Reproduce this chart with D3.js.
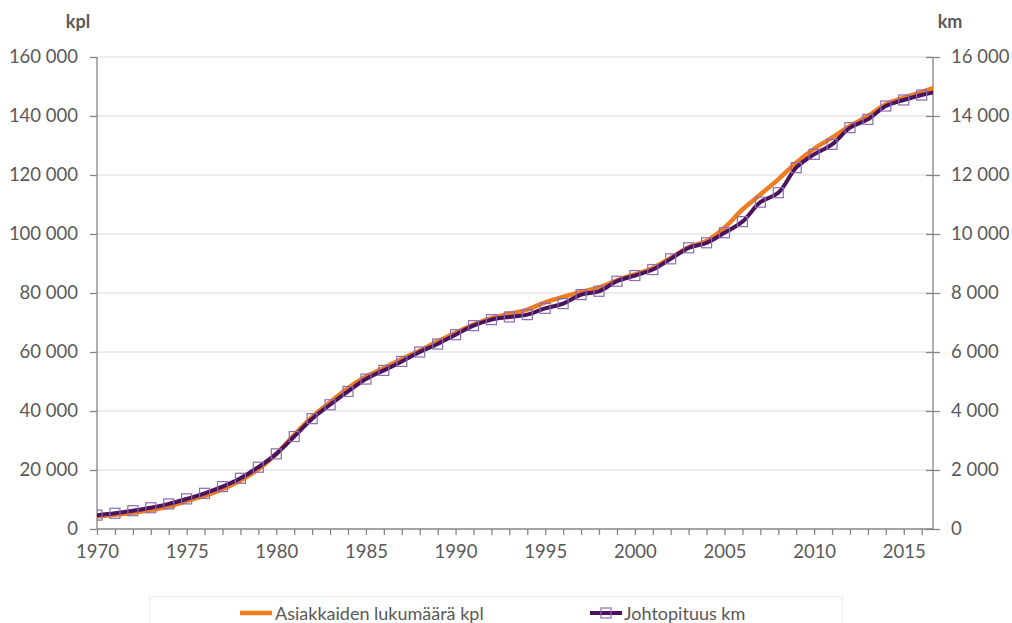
<!DOCTYPE html>
<html>
<head>
<meta charset="utf-8">
<script src="https://d3js.org/d3.v7.min.js"></script>
<style>
  body { margin: 0; background: #fff; font-family: Lato, "Open Sans", sans-serif; }
  svg text { fill: #595959; }
</style>
</head>
<body>
<div id="chart"></div>
<script>
// values
const years = d3.range(1970, 2018);
const customers = [4200, 4800, 5500, 6400, 7600, 9500, 11200, 13500, 16400, 20300,
  25500, 31900, 38000, 43000, 47800, 51700, 54600, 57600, 60500, 63600,
  66500, 69300, 71500, 72900, 74400, 76800, 78700, 80400, 81900, 84300,
  86300, 88500, 91900, 95500, 97600, 102100, 108300, 113400, 118500, 124200,
  128900, 132700, 136600, 140000, 144000, 146200, 148100, 150200];
const lineKm = [470, 533, 620, 720, 850, 1020, 1210, 1437, 1720, 2095,
  2547, 3134, 3740, 4211, 4662, 5083, 5376, 5681, 6000, 6272,
  6587, 6893, 7097, 7189, 7267, 7480, 7640, 7946, 8059, 8399,
  8591, 8795, 9158, 9532, 9702, 10042, 10420, 11080, 11399, 12248,
  12700, 13039, 13606, 13888, 14339, 14543, 14710, 14840];
const leftTicks = [0, 20000, 40000, 60000, 80000, 100000, 120000, 140000, 160000];
const rightTicks = [0, 2000, 4000, 6000, 8000, 10000, 12000, 14000, 16000];
const yearLabels = [1970, 1975, 1980, 1985, 1990, 1995, 2000, 2005, 2010, 2015];
const seriesNames = ["Asiakkaiden lukumäärä kpl", "Johtopituus km"];

const width = 1012, height = 623;
const m = { left: 97, right: 933, top: 57, bottom: 529 };

const x = d3.scaleLinear().domain([1970, 2016.63]).range([m.left, m.right]);
const yL = d3.scaleLinear().domain([0, 160000]).range([m.bottom, m.top]);
const yR = d3.scaleLinear().domain([0, 16000]).range([m.bottom, m.top]);

const fmt = v => d3.format(",")(v).replace(/,/g, " ");

const svg = d3.select("#chart").append("svg")
  .attr("width", width).attr("height", height);

svg.append("defs").append("clipPath").attr("id", "plot")
  .append("rect").attr("x", m.left).attr("y", 0)
  .attr("width", m.right - m.left).attr("height", m.bottom);

// gridlines
svg.append("g").selectAll("line").data(leftTicks.slice(1)).join("line")
  .attr("x1", m.left).attr("x2", m.right)
  .attr("y1", d => yL(d)).attr("y2", d => yL(d))
  .attr("stroke", "#d9d9d9").attr("stroke-width", 1);

// left axis
const gL = svg.append("g").attr("transform", `translate(${m.left},0)`)
  .call(d3.axisLeft(yL).tickValues(leftTicks).tickFormat(fmt).tickSize(7).tickPadding(12));
// right axis
const gR = svg.append("g").attr("transform", `translate(${m.right},0)`)
  .call(d3.axisRight(yR).tickValues(rightTicks).tickFormat(fmt).tickSize(7).tickPadding(11));
gR.selectAll(".tick line").attr("x1", -7);
// bottom axis
const gB = svg.append("g").attr("transform", `translate(0,${m.bottom})`)
  .call(d3.axisBottom(x).tickValues(d3.range(1970, 2017)).tickSize(6).tickPadding(10)
    .tickFormat(d => yearLabels.includes(d) ? d : ""));

[gL, gR, gB].forEach(g => {
  g.select(".domain").attr("stroke", "#868686").attr("stroke-width", 1.3);
  g.selectAll(".tick line").attr("stroke", "#868686").attr("stroke-width", 1.3);
  g.selectAll("text").attr("font-family", "Lato, sans-serif").attr("font-size", 18.5).attr("fill", "#595959");
});
gL.select(".domain").attr("d", `M0,${m.bottom}V${m.top}`);
gR.select(".domain").attr("d", `M0,${m.bottom}V${m.top}`);
gB.select(".domain").attr("d", `M${m.left},0H${m.right}`);

// axis titles
svg.append("text").attr("x", 78).attr("y", 28).attr("text-anchor", "middle")
  .attr("font-size", 18).attr("font-weight", "bold").text("kpl");
svg.append("text").attr("x", 950).attr("y", 28).attr("text-anchor", "middle")
  .attr("font-size", 18).attr("font-weight", "bold").text("km");

const plot = svg.append("g").attr("clip-path", "url(#plot)");

const lineL = d3.line().curve(d3.curveCatmullRom)
  .x((d, i) => x(years[i])).y(d => yL(d));
const lineR = d3.line().curve(d3.curveCatmullRom)
  .x((d, i) => x(years[i])).y(d => yR(d));

plot.append("path").datum(customers).attr("d", lineL)
  .attr("fill", "none").attr("stroke", "#ee7d22").attr("stroke-width", 4.5)
  .attr("stroke-linejoin", "round");

plot.append("path").datum(lineKm).attr("d", lineR)
  .attr("fill", "none").attr("stroke", "#4a145c").attr("stroke-width", 4)
  .attr("stroke-linejoin", "round");

plot.append("g").selectAll("rect").data(lineKm).join("rect")
  .attr("x", (d, i) => x(years[i]) - 5).attr("y", d => yR(d) - 5)
  .attr("width", 10).attr("height", 10)
  .attr("fill", "none").attr("stroke", "#8c6bb1").attr("stroke-width", 1.2);

// legend
svg.append("rect").attr("x", 149.5).attr("y", 596.5).attr("width", 693).attr("height", 40)
  .attr("fill", "none").attr("stroke", "#eeeeee");
const legend = svg.append("g");
legend.append("line").attr("x1", 240).attr("x2", 272).attr("y1", 613).attr("y2", 613)
  .attr("stroke", "#ee7d22").attr("stroke-width", 4.5);
legend.append("text").attr("x", 275).attr("y", 620).attr("font-size", 18).text(seriesNames[0]);
legend.append("line").attr("x1", 590).attr("x2", 622).attr("y1", 613).attr("y2", 613)
  .attr("stroke", "#4a145c").attr("stroke-width", 4);
legend.append("rect").attr("x", 601).attr("y", 608).attr("width", 10).attr("height", 10)
  .attr("fill", "none").attr("stroke", "#8c6bb1").attr("stroke-width", 1.2);
legend.append("text").attr("x", 624).attr("y", 620).attr("font-size", 18).text(seriesNames[1]);
</script>
</body>
</html>
